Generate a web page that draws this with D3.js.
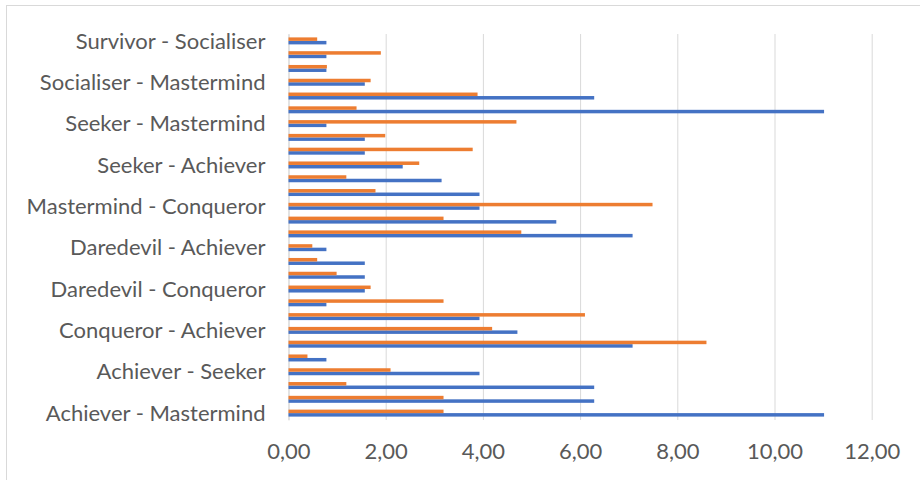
<!DOCTYPE html>
<html>
<head>
<meta charset="utf-8">
<script src="https://cdn.jsdelivr.net/npm/d3@7/dist/d3.min.js"></script>
<style>
  html, body { margin: 0; padding: 0; background: #fff; }
  svg { display: block; }
  text { font-family: "Lato", "Open Sans", sans-serif; fill: #595959; }
</style>
</head>
<body>
<svg id="chart" width="920" height="480"></svg>
<script>
// Category pairs, listed from the bottom of the chart to the top
const categories = [
  "Achiever - Mastermind", "Achiever - Daredevil", "Achiever - Conqueror",
  "Achiever - Seeker", "Achiever - Socialiser", "Achiever - Survivor",
  "Conqueror - Achiever", "Conqueror - Daredevil", "Conqueror - Mastermind",
  "Daredevil - Conqueror", "Daredevil - Mastermind", "Daredevil - Seeker",
  "Daredevil - Achiever", "Mastermind - Achiever", "Mastermind - Seeker",
  "Mastermind - Conqueror", "Mastermind - Socialiser", "Seeker - Conqueror",
  "Seeker - Achiever", "Seeker - Daredevil", "Seeker - Socialiser",
  "Seeker - Mastermind", "Socialiser - Achiever", "Socialiser - Conqueror",
  "Socialiser - Mastermind", "Socialiser - Seeker", "Survivor - Achiever",
  "Survivor - Socialiser"
];

// First series (blue)
const series1 = [
  11.02, 6.29, 6.29, 3.93, 0.78, 7.08, 4.71, 3.93, 0.78, 1.57,
  1.57, 1.57, 0.78, 7.08, 5.51, 3.93, 3.93, 3.15, 2.35, 1.57,
  1.57, 0.78, 11.02, 6.29, 1.57, 0.78, 0.78, 0.78
];

// Second series (orange)
const series2 = [
  3.19, 3.19, 1.19, 2.10, 0.39, 8.60, 4.19, 6.10, 3.19, 1.69,
  0.99, 0.59, 0.49, 4.79, 3.19, 7.49, 1.79, 1.19, 2.69, 3.79,
  1.99, 4.69, 1.40, 3.89, 1.69, 0.79, 1.90, 0.59
];

const xTicks = [0, 2, 4, 6, 8, 10, 12];

const seriesNames = ["Series 1", "Series 2"];
const seriesColors = ["#4472C4", "#ED7D31"];

const rows = categories.map((c, i) => ({ category: c, values: [series1[i], series2[i]] }));

const svg = d3.select("#chart");

// chart frame
svg.append("rect")
  .attr("x", 6.5).attr("y", 5.5)
  .attr("width", 940).attr("height", 500)
  .attr("fill", "none")
  .attr("stroke", "#D9D9D9")
  .attr("stroke-width", 1);

const plot = { left: 288.5, right: 871.7, top: 34, bottom: 420 };

const x = d3.scaleLinear().domain([0, 12]).range([plot.left, plot.right]);
const y = d3.scaleBand().domain(categories).range([plot.bottom, plot.top]).padding(0);
// series 2 sits above series 1 inside each category
const sub = d3.scaleBand().domain([1, 0]).range([0, y.bandwidth()]).paddingInner(0).paddingOuter(0.97);

const fmt = d3.formatLocale({ decimal: ",", thousands: ".", grouping: [3], currency: ["", ""] }).format(".2f");

// value axis with vertical gridlines
const xAxis = svg.append("g")
  .attr("transform", `translate(0,${plot.bottom})`)
  .call(d3.axisBottom(x).tickValues(xTicks).tickFormat(fmt)
    .tickSizeInner(-(plot.bottom - plot.top)).tickSizeOuter(0).tickPadding(0));
xAxis.select(".domain").remove();
xAxis.selectAll(".tick line").attr("stroke", "#D9D9D9").attr("stroke-width", 1);
xAxis.selectAll(".tick text")
  .attr("y", 39).attr("dy", null)
  .style("font-size", "22px");

// category axis, every third label shown
const yAxis = svg.append("g")
  .attr("transform", `translate(${plot.left},0)`)
  .call(d3.axisLeft(y).tickSize(0).tickPadding(23)
    .tickFormat((d, i) => i % 3 === 0 ? d : ""));
yAxis.select(".domain").attr("stroke", "#D9D9D9");
yAxis.selectAll(".tick text")
  .attr("dy", "0.35em")
  .style("font-size", "22px");

// bars
const groups = svg.append("g").selectAll("g")
  .data(rows).join("g")
  .attr("transform", d => `translate(0,${y(d.category)})`);

groups.selectAll("rect")
  .data(d => d.values.map((v, k) => ({ k, v })))
  .join("rect")
  .attr("x", x(0))
  .attr("y", d => sub(d.k))
  .attr("height", sub.bandwidth())
  .attr("width", d => x(d.v) - x(0))
  .attr("fill", d => seriesColors[d.k]);
</script>
</body>
</html>
